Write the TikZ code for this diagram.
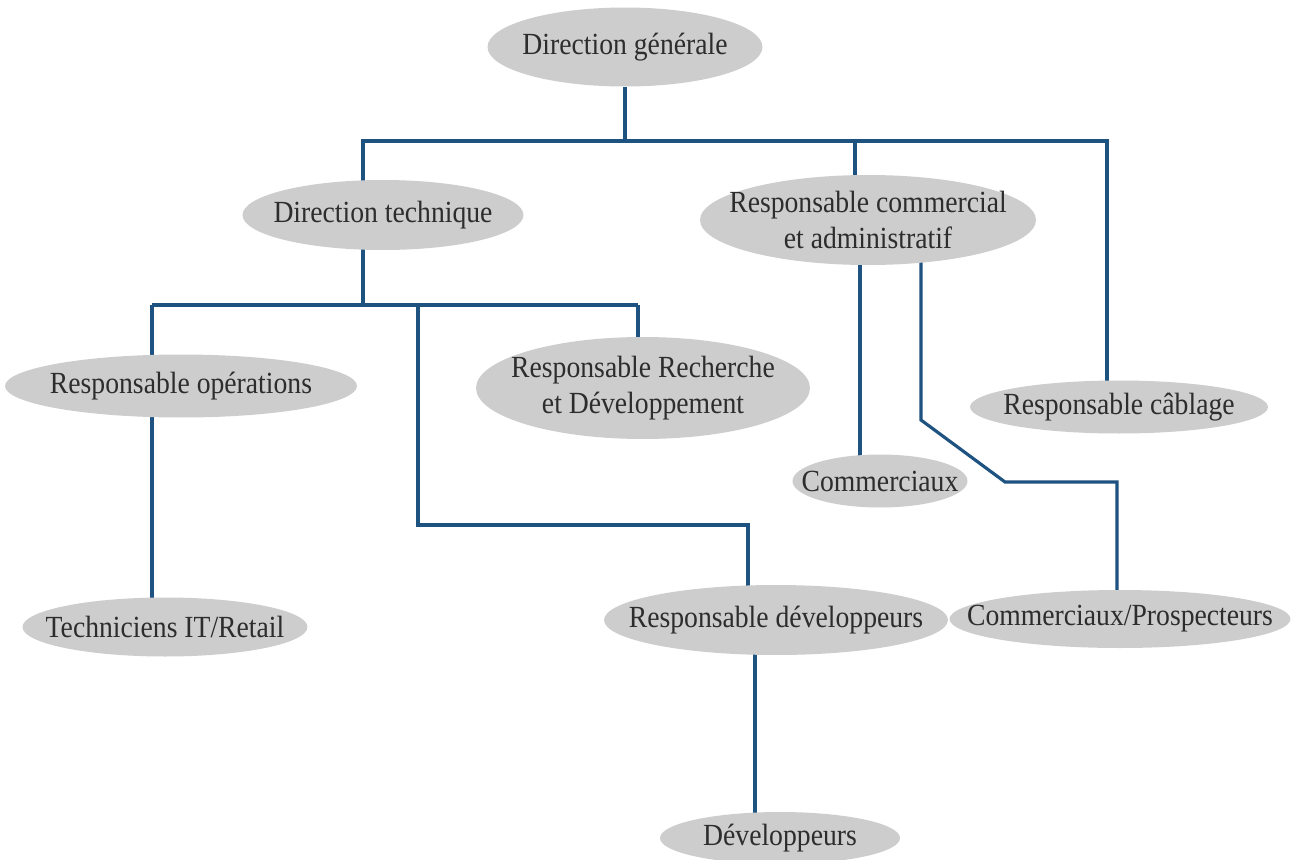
\documentclass[tikz,border=0pt]{standalone}
\usepackage{fontspec}
\setmainfont[FakeStretch=0.9]{Liberation Serif}
\usetikzlibrary{shapes}
\usetikzlibrary{backgrounds}
\definecolor{unitgray}{RGB}{205,205,205}
\definecolor{linkblue}{RGB}{30,82,128}
\definecolor{textgray}{RGB}{45,45,45}
\tikzset{unit/.style={ellipse,fill=unitgray,inner xsep=-1cm,inner ysep=-0.3cm,
text=textgray, align=center, font=\fontsize{17.5}{20.5}\selectfont},
link/.style={draw=linkblue,line width=1.8pt}}
\pgfdeclarelayer{b}
\pgfsetlayers{b,main}

\begin{document}
\begin{tikzpicture}[x=0.02cm,y=-0.02cm]
  \useasboundingbox (0,0) rectangle (1295,859);

  \node(DG) [unit,minimum width=5.5cm,minimum height=1.58cm] at (625,47) {Direction générale};
  \node(DT) [unit,minimum width=5.62cm,minimum height=1.4cm] at (383,215) {Direction technique};
  \node(RCA) [unit,minimum width=6.72cm,minimum height=1.8cm] at (868,220) {Responsable commercial\\et administratif};
  \node(RO) [unit,minimum width=7.04cm,minimum height=1.26cm] at (181,386) {Responsable opérations};
  \node(RRD) [unit,minimum width=6.68cm,minimum height=2.04cm] at (643,388) {Responsable Recherche\\et Développement};
  \node(RCab) [unit,minimum width=5.96cm,minimum height=1.06cm] at (1119,407) {Responsable câblage};
  \node(Com) [unit,minimum width=3.5cm,minimum height=1.06cm] at (880,481) {Commerciaux};
  \node(TIT) [unit,minimum width=5.7cm,minimum height=1.18cm] at (165,627) {Techniciens IT/Retail};
  \node(RDev) [unit,minimum width=6.88cm,minimum height=1.4cm] at (776,620) {Responsable développeurs};
  \node(CP) [unit,minimum width=6.82cm,minimum height=1.16cm] at (1120,619) {Commerciaux/Prospecteurs};
  \node(Dev) [unit,minimum width=4.8cm,minimum height=1.04cm] at (780,838) {Développeurs};

  % junctions of the links
  \coordinate (jTech) at (363,141);
  \coordinate (jCom) at (855,141);
  \coordinate (jCab) at (1107,141);
  \coordinate (jDT) at (363,305);
  \coordinate (jOps) at (152,305);
  \coordinate (jRD) at (638,305);
  \coordinate (jDev) at (418,305);
  \coordinate (kDev) at (748,525);
  \coordinate (xCom) at (860,350);
  \coordinate (kCP1) at (921,420);
  \coordinate (kCP2) at (1005,482);
  \coordinate (kCP3) at (1117,482);
  \coordinate (xDev) at (755,720);

\begin{pgfonlayer}{b}
\fill[white] (0,0) rectangle (1295,859);
\draw[link]
(DG)
   |- (jTech) --
(jTech |- DT);
\draw[link]
(DG)
   |- (jCab) --
(jCab |- RCab);
\draw[link]
(jCom)
   --
(jCom |- RCA);
\draw[link]
(jDT |- DT)
   --
(jDT);
\draw[link]
(jOps)
   --
(jRD);
\draw[link]
(jOps)
   --
(jOps |- RO);
\draw[link]
(jRD)
   --
(jRD |- RRD);
\draw[link]
(jDev)
   |- (kDev) --
(kDev |- RDev);
\draw[link]
(jOps |- RO)
   --
(jOps |- TIT);
\draw[link]
(xCom |- RCA)
   --
(xCom |- Com);
\draw[link]
(kCP1 |- RCA)
   -- (kCP1) -- (kCP2) -- (kCP3) --
(kCP3 |- CP);
\draw[link]
(xDev |- RDev)
   --
(xDev |- Dev);
\end{pgfonlayer}
\end{tikzpicture}
\end{document}
